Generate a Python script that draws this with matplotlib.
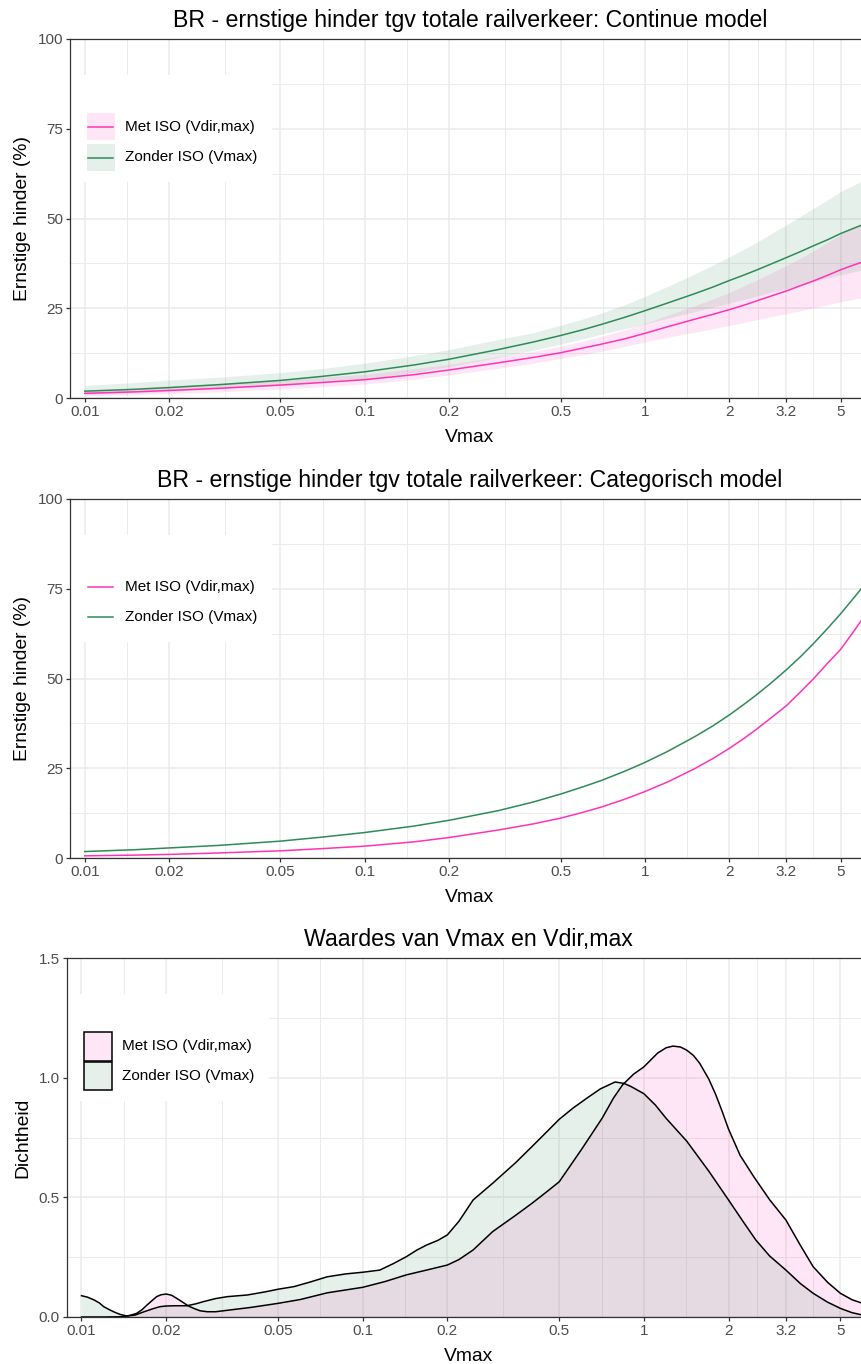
import matplotlib
matplotlib.use("Agg")
import matplotlib.pyplot as plt
from matplotlib.patches import Rectangle
from matplotlib.lines import Line2D
from matplotlib.ticker import FixedLocator, NullFormatter
from matplotlib.colors import to_rgba
import numpy as np

plt.rcParams['font.family'] = ['Liberation Sans', 'DejaVu Sans']

# ---- data ----
labels = ["Met ISO (Vdir,max)", "Zonder ISO (Vmax)"]

# x values (Vmax) for the two model panels
x_model = [0.01, 0.015, 0.02, 0.03, 0.05, 0.07, 0.1, 0.15, 0.2, 0.3,
           0.4, 0.5, 0.6, 0.7, 0.85, 1, 1.2, 1.5, 1.75, 2,
           2.25, 2.5, 2.8, 3.2, 3.6, 4, 4.5, 5, 5.5, 6]

# continue model (%), line + confidence band
met_cont = [1.3, 1.7, 2.1, 2.7, 3.6, 4.3, 5.1, 6.5, 7.8, 9.8,
            11.3, 12.6, 13.9, 15.0, 16.5, 18.0, 19.8, 21.9, 23.3, 24.6,
            25.8, 27.0, 28.3, 29.8, 31.3, 32.6, 34.2, 35.7, 36.9, 37.9]
met_cont_lo = [0.6, 0.9, 1.2, 1.7, 2.5, 3.1, 3.9, 5.2, 6.4, 8.3,
               9.7, 11.0, 12.1, 13.0, 14.4, 15.6, 16.9, 18.3, 19.3, 20.2,
               21.0, 21.8, 22.6, 23.5, 24.3, 25.1, 26.0, 26.8, 27.4, 28.0]
met_cont_hi = [2.2, 2.9, 3.4, 4.1, 5.1, 5.8, 6.6, 8.2, 9.4, 11.5,
               13.0, 14.4, 15.8, 17.2, 19.0, 20.8, 23.0, 25.7, 27.6, 29.4,
               31.2, 32.8, 34.7, 36.9, 39.0, 41.0, 43.4, 45.6, 47.1, 48.5]
zon_cont = [1.9, 2.4, 2.9, 3.7, 4.9, 6.0, 7.3, 9.2, 10.8, 13.5,
            15.6, 17.4, 19.0, 20.5, 22.5, 24.3, 26.4, 29.0, 30.9, 32.7,
            34.2, 35.6, 37.2, 39.1, 40.8, 42.4, 44.1, 45.8, 47.1, 48.3]
zon_cont_lo = [1.0, 1.4, 1.8, 2.5, 3.5, 4.4, 5.3, 7.1, 8.7, 11.3,
               13.3, 15.0, 16.5, 17.8, 19.3, 20.6, 22.2, 24.0, 25.3, 26.4,
               27.4, 28.3, 29.4, 30.5, 31.5, 32.4, 33.4, 34.3, 35.0, 35.7]
zon_cont_hi = [3.5, 4.3, 5.0, 5.8, 7.1, 8.2, 9.7, 11.8, 13.5, 16.3,
               18.2, 20.3, 22.0, 23.7, 26.0, 28.3, 31.0, 34.5, 37.0, 39.3,
               41.4, 43.3, 45.6, 48.2, 50.6, 52.8, 55.2, 57.5, 59.1, 60.5]

# categorisch model (%)
met_cat = [0.6, 0.8, 1.0, 1.4, 2.0, 2.6, 3.3, 4.5, 5.7, 7.8,
           9.5, 11.1, 12.7, 14.2, 16.4, 18.5, 21.1, 24.8, 27.7, 30.5,
           33.2, 35.8, 38.8, 42.4, 46.3, 49.9, 54.3, 58.1, 62.5, 66.7]
zon_cat = [1.8, 2.3, 2.8, 3.5, 4.7, 5.8, 7.1, 8.9, 10.5, 13.2,
           15.6, 17.8, 19.8, 21.6, 24.2, 26.6, 29.6, 33.7, 36.8, 39.8,
           42.7, 45.4, 48.5, 52.4, 56.1, 59.7, 64.0, 68.0, 71.9, 75.5]

# density of Vdir,max (met ISO)
x_dens_met = [0.01, 0.012, 0.0138, 0.0145, 0.015, 0.0157, 0.0164, 0.0171, 0.0178,
              0.0185, 0.0192, 0.02, 0.0209, 0.0218, 0.0229, 0.024, 0.0252, 0.0264,
              0.028, 0.03, 0.033, 0.04, 0.05, 0.06, 0.0748, 0.087, 0.1, 0.12,
              0.143, 0.17, 0.2, 0.22, 0.247, 0.29, 0.35, 0.4, 0.45, 0.5,
              0.6, 0.71, 0.78, 0.84, 0.92, 1.0, 1.06, 1.12, 1.2, 1.27,
              1.35, 1.42, 1.5, 1.58, 1.7, 1.8, 1.9, 2.0, 2.2, 2.46,
              2.8, 3.2, 3.6, 4.0, 4.5, 5.0, 5.5, 6.0]
dens_met = [0.0, 0.0, 0.001, 0.004, 0.008, 0.015, 0.03, 0.05, 0.068,
            0.085, 0.093, 0.096, 0.091, 0.078, 0.062, 0.046, 0.035, 0.026,
            0.022, 0.022, 0.028, 0.040, 0.057, 0.073, 0.101, 0.113, 0.124, 0.148,
            0.176, 0.197, 0.217, 0.24, 0.28, 0.357, 0.425, 0.475, 0.522, 0.565,
            0.70, 0.83, 0.915, 0.97, 1.015, 1.045, 1.075, 1.103, 1.125, 1.132,
            1.128, 1.115, 1.093, 1.06, 0.995, 0.93, 0.858, 0.785, 0.675, 0.586,
            0.49, 0.405, 0.30, 0.21, 0.145, 0.099, 0.072, 0.057]

# density of Vmax (zonder ISO)
x_dens_zon = [0.01, 0.0105, 0.0111, 0.0116, 0.012, 0.0125, 0.013, 0.0137, 0.0145,
              0.0155, 0.0167, 0.018, 0.019, 0.02, 0.0215, 0.0237, 0.0255, 0.0271,
              0.03, 0.033, 0.0389, 0.045, 0.05, 0.057, 0.065, 0.0748, 0.087, 0.1,
              0.115, 0.128, 0.143, 0.156, 0.169, 0.185, 0.2, 0.22, 0.247, 0.29,
              0.35, 0.4, 0.45, 0.5, 0.56, 0.63, 0.7, 0.79, 0.85, 0.9,
              1.0, 1.1, 1.2, 1.42, 1.7, 2.0, 2.25, 2.5, 2.8, 3.2,
              3.6, 4.0, 4.5, 5.0, 5.5, 6.0]
dens_zon = [0.089, 0.083, 0.071, 0.058, 0.043, 0.032, 0.022, 0.011, 0.004,
            0.008, 0.022, 0.035, 0.043, 0.046, 0.047, 0.047, 0.055, 0.064,
            0.077, 0.085, 0.092, 0.105, 0.116, 0.127, 0.146, 0.168, 0.18, 0.187,
            0.196, 0.222, 0.252, 0.28, 0.301, 0.32, 0.343, 0.40, 0.489, 0.559,
            0.645, 0.712, 0.772, 0.826, 0.873, 0.916, 0.953, 0.982, 0.976, 0.963,
            0.933, 0.885, 0.83, 0.735, 0.61, 0.489, 0.40, 0.322, 0.255, 0.196,
            0.14, 0.099, 0.062, 0.036, 0.018, 0.008]

x_ticks = [0.01, 0.02, 0.05, 0.1, 0.2, 0.5, 1, 2, 3.2, 5]
x_ticklabels = ["0.01", "0.02", "0.05", "0.1", "0.2", "0.5", "1", "2", "3.2", "5"]

PINK = "#FF33B5"
GREEN = "#2E8B57"
ALPHA = 0.12
AXCOL = "#333333"
GRID = "#EBEBEB"

W, H = 862, 1364
fig = plt.figure(figsize=(W / 100, H / 100), dpi=100)


def add_ax(left_px, top_px):
    # panels run a little past the right edge of the image
    return fig.add_axes([left_px / W, 1 - (top_px + 359) / H,
                         (870 - left_px) / W, 359 / H])


ax1 = add_ax(70, 39)
ax2 = add_ax(70, 499)
ax3 = add_ax(66.7, 958)

# minor breaks halfway between major ones (log space)
lt = np.log10(x_ticks)
minor_x = 10 ** ((lt[:-1] + lt[1:]) / 2)


def style(ax, yticks, ylabels, yminor, ylabel, title):
    ax.set_xscale("log")
    ax.set_xlim(0.00886, 6.37)
    ax.set_ylim(yticks[0], yticks[-1])
    ax.xaxis.set_major_locator(FixedLocator(x_ticks))
    ax.set_xticklabels(x_ticklabels)
    ax.xaxis.set_minor_locator(FixedLocator(minor_x))
    ax.xaxis.set_minor_formatter(NullFormatter())
    ax.set_yticks(yticks)
    ax.set_yticklabels(ylabels)
    ax.set_yticks(yminor, minor=True)
    ax.set_axisbelow(True)
    ax.grid(True, which="major", color=GRID, lw=1.1)
    ax.grid(True, which="minor", color=GRID, lw=0.7)
    ax.tick_params(which="minor", length=0)
    ax.tick_params(which="major", length=3, width=0.9, color=AXCOL,
                   labelcolor="#4D4D4D", labelsize=11, pad=2)
    for s in ["left", "top", "bottom"]:
        ax.spines[s].set_color(AXCOL)
        ax.spines[s].set_linewidth(0.9)
    ax.spines["right"].set_visible(False)
    ax.set_xlabel("Vmax", fontsize=13.9, labelpad=7.5)
    ax.set_ylabel(ylabel, fontsize=13.9, labelpad=5)
    ax.set_title(title, fontsize=16.7, pad=8.5)


def legend_keys(ax, kind, colors, key_w, key_h, pitch):
    aw, ah = ax.bbox.width, ax.bbox.height
    ax.add_patch(Rectangle((0, 1 - (36 + 107) / ah), 202 / aw, 107 / ah,
                           transform=ax.transAxes, fc="white", ec="none", zorder=1))
    for i, (lab, col) in enumerate(zip(labels, colors)):
        top = 74 + i * pitch
        x0, y0 = 17 / aw, 1 - (top + key_h) / ah
        yc = 1 - (top + key_h / 2) / ah
        if kind in ("band", "box"):
            ax.add_patch(Rectangle((x0, y0), key_w / aw, key_h / ah,
                                   transform=ax.transAxes, zorder=3,
                                   fc=to_rgba(col, ALPHA),
                                   ec="black" if kind == "box" else "none",
                                   lw=1.1))
        if kind in ("band", "line"):
            ax.add_line(Line2D([18.5 / aw, (17 + key_w - 1.5) / aw], [yc, yc],
                               transform=ax.transAxes, color=col, lw=1.1, zorder=3))
        ax.text(55 / aw, yc, lab, transform=ax.transAxes, fontsize=11,
                va="center", ha="left", color="black", zorder=3)


# ---- panel 1: continue model ----
ax1.fill_between(x_model, met_cont_lo, met_cont_hi, color=PINK, alpha=ALPHA, lw=0)
ax1.fill_between(x_model, zon_cont_lo, zon_cont_hi, color=GREEN, alpha=ALPHA, lw=0)
ax1.plot(x_model, met_cont, color=PINK, lw=1.1)
ax1.plot(x_model, zon_cont, color=GREEN, lw=1.1)
style(ax1, [0, 25, 50, 75, 100], ["0", "25", "50", "75", "100"],
      [12.5, 37.5, 62.5, 87.5], "Ernstige hinder (%)",
      "BR - ernstige hinder tgv totale railverkeer: Continue model")
legend_keys(ax1, "band", [PINK, GREEN], 28, 27, 31)

# ---- panel 2: categorisch model ----
ax2.plot(x_model, met_cat, color=PINK, lw=1.1)
ax2.plot(x_model, zon_cat, color=GREEN, lw=1.1)
style(ax2, [0, 25, 50, 75, 100], ["0", "25", "50", "75", "100"],
      [12.5, 37.5, 62.5, 87.5], "Ernstige hinder (%)",
      "BR - ernstige hinder tgv totale railverkeer: Categorisch model")
legend_keys(ax2, "line", [PINK, GREEN], 28, 27, 30)

# ---- panel 3: densities ----
ax3.fill_between(x_dens_met, 0, dens_met, color=PINK, alpha=ALPHA, lw=0)
ax3.fill_between(x_dens_zon, 0, dens_zon, color=GREEN, alpha=ALPHA, lw=0)
ax3.plot(x_dens_met, dens_met, color="black", lw=1.1)
ax3.plot(x_dens_zon, dens_zon, color="black", lw=1.1)
style(ax3, [0, 0.5, 1.0, 1.5], ["0.0", "0.5", "1.0", "1.5"],
      [0.25, 0.75, 1.25], "Dichtheid", "Waardes van Vmax en Vdir,max")
legend_keys(ax3, "box", [PINK, GREEN], 28.7, 28.7, 29.7)

fig.savefig("out.png", dpi=100)
